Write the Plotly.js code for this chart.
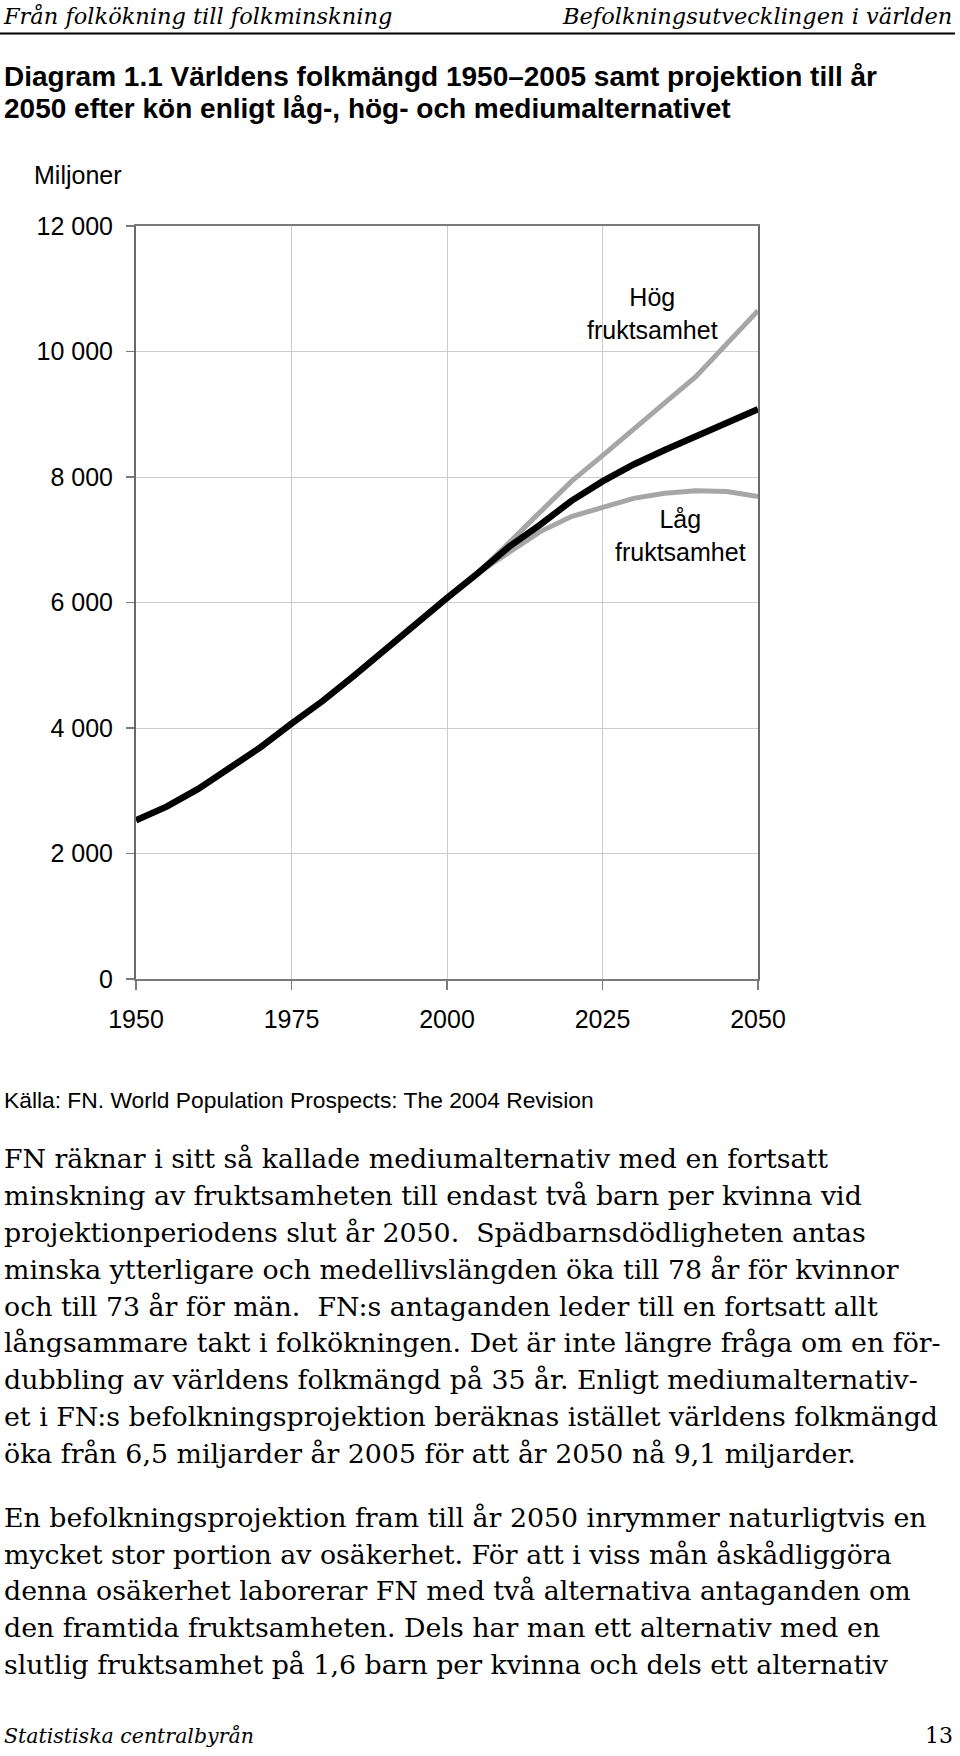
<!DOCTYPE html>
<html>
<head>
<meta charset="utf-8">
<script src="https://cdn.plot.ly/plotly-3.0.1.min.js"></script>
<style>
html,body{margin:0;padding:0;background:#ffffff;}
#chart{width:960px;height:1756px;}
</style>
</head>
<body>
<div id="chart"></div>
<script>
// ---------- data ----------
const years = [1950,1955,1960,1965,1970,1975,1980,1985,1990,1995,2000,2005,2010,2015,2020,2025,2030,2035,2040,2045,2050];
const mediumValues = [2530,2750,3030,3350,3690,4070,4430,4830,5250,5680,6070,6470,6890,7240,7620,7930,8200,8430,8650,8860,9080];
const projectionYears = [2005,2010,2015,2020,2025,2030,2035,2040,2045,2050];
const highValues = [6470,6960,7450,7930,8340,8750,9180,9600,10120,10650];
const lowValues  = [6470,6810,7130,7370,7510,7660,7740,7780,7770,7690];

const xTickVals = [1950,1975,2000,2025,2050];
const xTickText = ['1950','1975','2000','2025','2050'];
const yTickVals = [0,2000,4000,6000,8000,10000,12000];
const yTickText = ['0','2 000','4 000','6 000','8 000','10 000','12 000'];

// ---------- texts ----------
const headerLeft = 'Från folkökning till folkminskning';
const headerRight = 'Befolkningsutvecklingen i världen';
const titleLines = [
  'Diagram 1.1 Världens folkmängd 1950–2005 samt projektion till år',
  '2050 efter kön enligt låg-, hög- och mediumalternativet'
];
const unitLabel = 'Miljoner';
const highLabel = 'Hög<br>fruktsamhet';
const lowLabel = 'Låg<br>fruktsamhet';
const sourceText = 'Källa: FN. World Population Prospects: The 2004 Revision';
const paragraph1 = [
  'FN räknar i sitt så kallade mediumalternativ med en fortsatt',
  'minskning av fruktsamheten till endast två barn per kvinna vid',
  'projektionperiodens slut år 2050.  Spädbarnsdödligheten antas',
  'minska ytterligare och medellivslängden öka till 78 år för kvinnor',
  'och till 73 år för män.  FN:s antaganden leder till en fortsatt allt',
  'långsammare takt i folkökningen. Det är inte längre fråga om en för-',
  'dubbling av världens folkmängd på 35 år. Enligt mediumalternativ-',
  'et i FN:s befolkningsprojektion beräknas istället världens folkmängd',
  'öka från 6,5 miljarder år 2005 för att år 2050 nå 9,1 miljarder.'
];
const paragraph2 = [
  'En befolkningsprojektion fram till år 2050 inrymmer naturligtvis en',
  'mycket stor portion av osäkerhet. För att i viss mån åskådliggöra',
  'denna osäkerhet laborerar FN med två alternativa antaganden om',
  'den framtida fruktsamheten. Dels har man ett alternativ med en',
  'slutlig fruktsamhet på 1,6 barn per kvinna och dels ett alternativ'
];
const footerLeft = 'Statistiska centralbyrån';
const footerRight = '13';

// ---------- layout helpers ----------
const W = 960, H = 1756;
const SANS = 'Liberation Sans, Arial, sans-serif';
const SERIF = 'DejaVu Serif, serif';
function pxX(p){ return p / W; }
function pxY(p){ return 1 - p / H; }
function textAt(text, x, baseline, size, family, anchor, extraFont){
  const font = Object.assign({family: family, size: size, color: '#000000'}, extraFont || {});
  return {
    text: text, xref: 'paper', yref: 'paper',
    x: pxX(x), y: pxY(baseline - 0.35 * size),
    xanchor: anchor, yanchor: 'middle',
    showarrow: false, borderpad: 0, borderwidth: 0,
    font: font
  };
}

const annotations = [];
annotations.push(textAt(headerLeft, 3, 24, 22.5, SERIF, 'left', {style: 'italic'}));
annotations.push(textAt(headerRight, 952, 24, 22.5, SERIF, 'right', {style: 'italic'}));
titleLines.forEach((t, i) => annotations.push(textAt(t, 4, 86 + i * 32.3, 28, SANS, 'left', {weight: 700})));
annotations.push(textAt(unitLabel, 34, 183.5, 25, SANS, 'left'));
annotations.push(textAt(sourceText, 4, 1107.7, 22.8, SANS, 'left'));
paragraph1.forEach((t, i) => annotations.push(textAt(t, 4, 1168.3 + i * 36.8, 26.8, SERIF, 'left')));
paragraph2.forEach((t, i) => annotations.push(textAt(t, 4, 1526.7 + i * 36.7, 26.8, SERIF, 'left')));
annotations.push(textAt(footerLeft, 4, 1743, 20.5, SERIF, 'left', {style: 'italic'}));
annotations.push(textAt(footerRight, 953, 1743, 22, SERIF, 'right'));

// labels inside the chart (data coordinates)
annotations.push({text: highLabel, xref: 'x', yref: 'y', x: 2033, y: 10610, xanchor: 'center', yanchor: 'middle',
  showarrow: false, align: 'center', font: {family: SANS, size: 25, color: '#000000'}});
annotations.push({text: lowLabel, xref: 'x', yref: 'y', x: 2037.6, y: 7071, xanchor: 'center', yanchor: 'middle',
  showarrow: false, align: 'center', font: {family: SANS, size: 25, color: '#000000'}});

const traces = [
  {x: projectionYears, y: highValues, type: 'scatter', mode: 'lines', name: 'Hög fruktsamhet',
   line: {color: '#a6a6a6', width: 5}, hoverinfo: 'x+y'},
  {x: projectionYears, y: lowValues, type: 'scatter', mode: 'lines', name: 'Låg fruktsamhet',
   line: {color: '#a6a6a6', width: 5}, hoverinfo: 'x+y'},
  {x: years, y: mediumValues, type: 'scatter', mode: 'lines', name: 'Medium',
   line: {color: '#000000', width: 6.5}, hoverinfo: 'x+y'}
];

const layout = {
  width: W, height: H, autosize: false,
  margin: {l: 0, r: 0, t: 0, b: 0, pad: 0},
  paper_bgcolor: '#ffffff', plot_bgcolor: '#ffffff',
  showlegend: false,
  font: {family: SANS, color: '#000000'},
  xaxis: {
    domain: [136 / W, 758 / W],
    range: [1950, 2050], fixedrange: true,
    tickmode: 'array', tickvals: xTickVals, ticktext: xTickText,
    ticks: 'outside', ticklen: 9, tickwidth: 1.5, tickcolor: '#7a7a7a',
    ticklabelstandoff: 8,
    tickfont: {family: SANS, size: 25, color: '#000000'},
    showgrid: true, gridcolor: '#cccccc', gridwidth: 1,
    showline: true, linecolor: '#7a7a7a', linewidth: 2, mirror: true,
    zeroline: false
  },
  yaxis: {
    domain: [1 - 979 / H, 1 - 226 / H],
    range: [0, 12000], fixedrange: true,
    tickmode: 'array', tickvals: yTickVals, ticktext: yTickText,
    ticks: 'outside', ticklen: 8, tickwidth: 1.5, tickcolor: '#7a7a7a',
    ticklabelstandoff: 8,
    tickfont: {family: SANS, size: 25, color: '#000000'},
    showgrid: true, gridcolor: '#cccccc', gridwidth: 1,
    showline: true, linecolor: '#6a6a6a', linewidth: 2, mirror: true,
    zeroline: false
  },
  shapes: [
    {type: 'line', xref: 'paper', yref: 'paper', x0: 0, x1: 955 / W, y0: pxY(33.5), y1: pxY(33.5),
     line: {color: '#000000', width: 2}}
  ],
  annotations: annotations
};

Plotly.newPlot('chart', traces, layout, {displayModeBar: false, staticPlot: true});
</script>
</body>
</html>
